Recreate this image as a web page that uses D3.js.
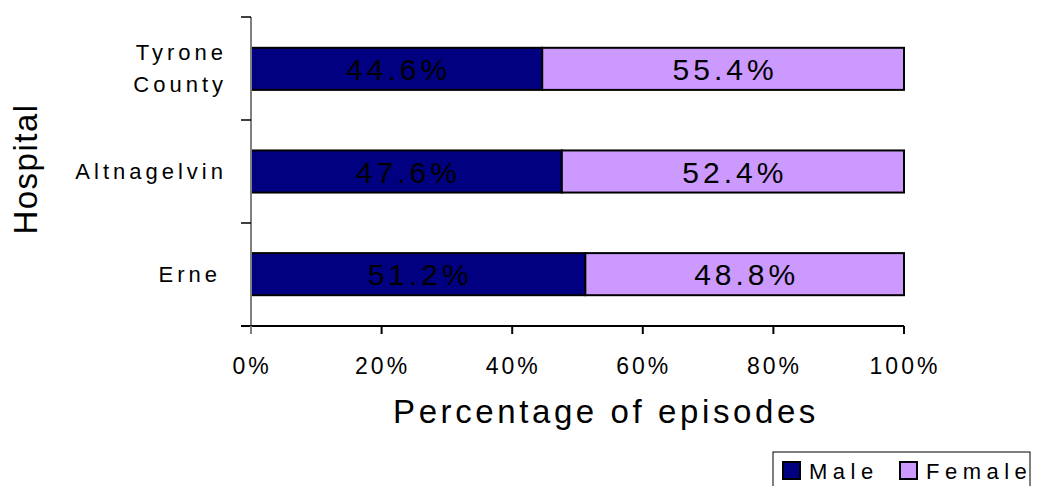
<!DOCTYPE html>
<html>
<head>
<meta charset="utf-8">
<script src="https://cdn.jsdelivr.net/npm/d3@7"></script>
<style>
  body { margin: 0; background: #fff; }
  svg { font-family: "Liberation Sans", Arial, sans-serif; }
</style>
</head>
<body>
<svg width="1037" height="486"></svg>
<script>
// data
var hospitals = ['Tyrone County', 'Altnagelvin', 'Erne'];
var male = [44.6, 47.6, 51.2];
var female = [55.4, 52.4, 48.8];
var seriesNames = ['Male', 'Female'];
var seriesColors = ['#000080', '#cc99ff'];
var xTicks = [0, 20, 40, 60, 80, 100];

var svg = d3.select('svg');
var margin = {left: 251, top: 17, right: 133, bottom: 160};
var width = 1037 - margin.left - margin.right;
var height = 486 - margin.top - margin.bottom;

var g = svg.append('g').attr('transform', 'translate(' + margin.left + ',' + margin.top + ')');

var x = d3.scaleLinear().domain([0, 100]).range([0, width]);
var y = d3.scaleBand().domain(hospitals).range([0, height]).paddingInner(0.59).paddingOuter(0.3);
var yBand = d3.scaleBand().domain(hospitals).range([0, height]);

var rows = hospitals.map(function(h, i) { return {name: h, Male: male[i], Female: female[i]}; });
var stacked = d3.stack().keys(seriesNames)(rows);

// bars
stacked.forEach(function(s, si) {
  g.append('g').selectAll('rect')
    .data(s)
    .enter().append('rect')
    .attr('x', function(d) { return x(d[0]); })
    .attr('y', function(d) { return y(d.data.name); })
    .attr('width', function(d) { return x(d[1]) - x(d[0]); })
    .attr('height', y.bandwidth())
    .attr('fill', seriesColors[si])
    .attr('stroke', '#000')
    .attr('stroke-width', 2);

  g.append('g').selectAll('text')
    .data(s)
    .enter().append('text')
    .attr('x', function(d) { return x((d[0] + d[1]) / 2) + 2; })
    .attr('y', function(d) { return y(d.data.name) + y.bandwidth() / 2 + 11; })
    .attr('text-anchor', 'middle')
    .style('font-size', '30px')
    .style('letter-spacing', '4px')
    .attr('fill', '#000')
    .text(function(d) { return (d[1] - d[0]).toFixed(1) + '%'; });
});

// y axis
var yAxisG = g.append('g');
yAxisG.append('line')
  .attr('x1', 0).attr('x2', 0).attr('y1', 0).attr('y2', height + 8)
  .attr('stroke', '#808080').attr('stroke-width', 2);
var yTickPos = [0].concat(hospitals.map(function(h) { return yBand(h) + yBand.bandwidth(); }));
yAxisG.selectAll('line.tick')
  .data(yTickPos)
  .enter().append('line')
  .attr('class', 'tick')
  .attr('x1', -10).attr('x2', 0)
  .attr('y1', function(d) { return d; }).attr('y2', function(d) { return d; })
  .attr('stroke', '#000').attr('stroke-width', 1.5);

// category labels
hospitals.forEach(function(h) {
  var words = h.split(' ');
  var cy = yBand(h) + yBand.bandwidth() / 2;
  var t = g.append('text')
    .attr('text-anchor', 'end')
    .style('font-size', '22px')
    .style('letter-spacing', '4px')
    .attr('fill', '#000');
  var lh = 32;
  words.forEach(function(w, i) {
    t.append('tspan')
      .attr('x', h === 'Erne' ? -30 : -24)
      .attr('y', cy + 7 + (i - (words.length - 1) / 2) * lh)
      .text(w);
  });
});

// x axis
var xAxisG = g.append('g').attr('transform', 'translate(0,' + height + ')');
xAxisG.append('line')
  .attr('x1', -10).attr('x2', width).attr('y1', 0).attr('y2', 0)
  .attr('stroke', '#000').attr('stroke-width', 2);
xAxisG.selectAll('line.tick')
  .data(xTicks)
  .enter().append('line')
  .attr('x1', function(d) { return x(d); }).attr('x2', function(d) { return x(d); })
  .attr('y1', 0).attr('y2', 8)
  .attr('stroke', function(d) { return d === 0 ? '#808080' : '#000'; })
  .attr('stroke-width', 2);
xAxisG.selectAll('text')
  .data(xTicks)
  .enter().append('text')
  .attr('x', function(d) { return x(d) + 1; })
  .attr('y', 48)
  .attr('text-anchor', 'middle')
  .style('font-size', '23px')
  .style('letter-spacing', '3px')
  .attr('fill', '#000')
  .text(function(d) { return d + '%'; });

// axis titles
svg.append('text')
  .attr('x', 606)
  .attr('y', 423)
  .attr('text-anchor', 'middle')
  .style('font-size', '33px')
  .style('letter-spacing', '3.6px')
  .attr('fill', '#000')
  .text('Percentage of episodes');

svg.append('text')
  .attr('transform', 'translate(37,169) rotate(-90)')
  .attr('text-anchor', 'middle')
  .style('font-size', '33px')
  .style('letter-spacing', '1.5px')
  .attr('fill', '#000')
  .text('Hospital');

// legend
var legend = svg.append('g');
legend.append('rect')
  .attr('x', 773).attr('y', 452).attr('width', 257).attr('height', 40)
  .attr('fill', '#fff').attr('stroke', '#000').attr('stroke-width', 1);
var legX = [783, 900];
seriesNames.forEach(function(n, i) {
  legend.append('rect')
    .attr('x', legX[i]).attr('y', 462).attr('width', 17).attr('height', 17)
    .attr('fill', seriesColors[i]).attr('stroke', '#000').attr('stroke-width', 2);
  legend.append('text')
    .attr('x', legX[i] + 26).attr('y', 479)
    .style('font-size', '22px')
    .style('letter-spacing', '5.5px')
    .attr('fill', '#000')
    .text(n);
});
</script>
</body>
</html>
